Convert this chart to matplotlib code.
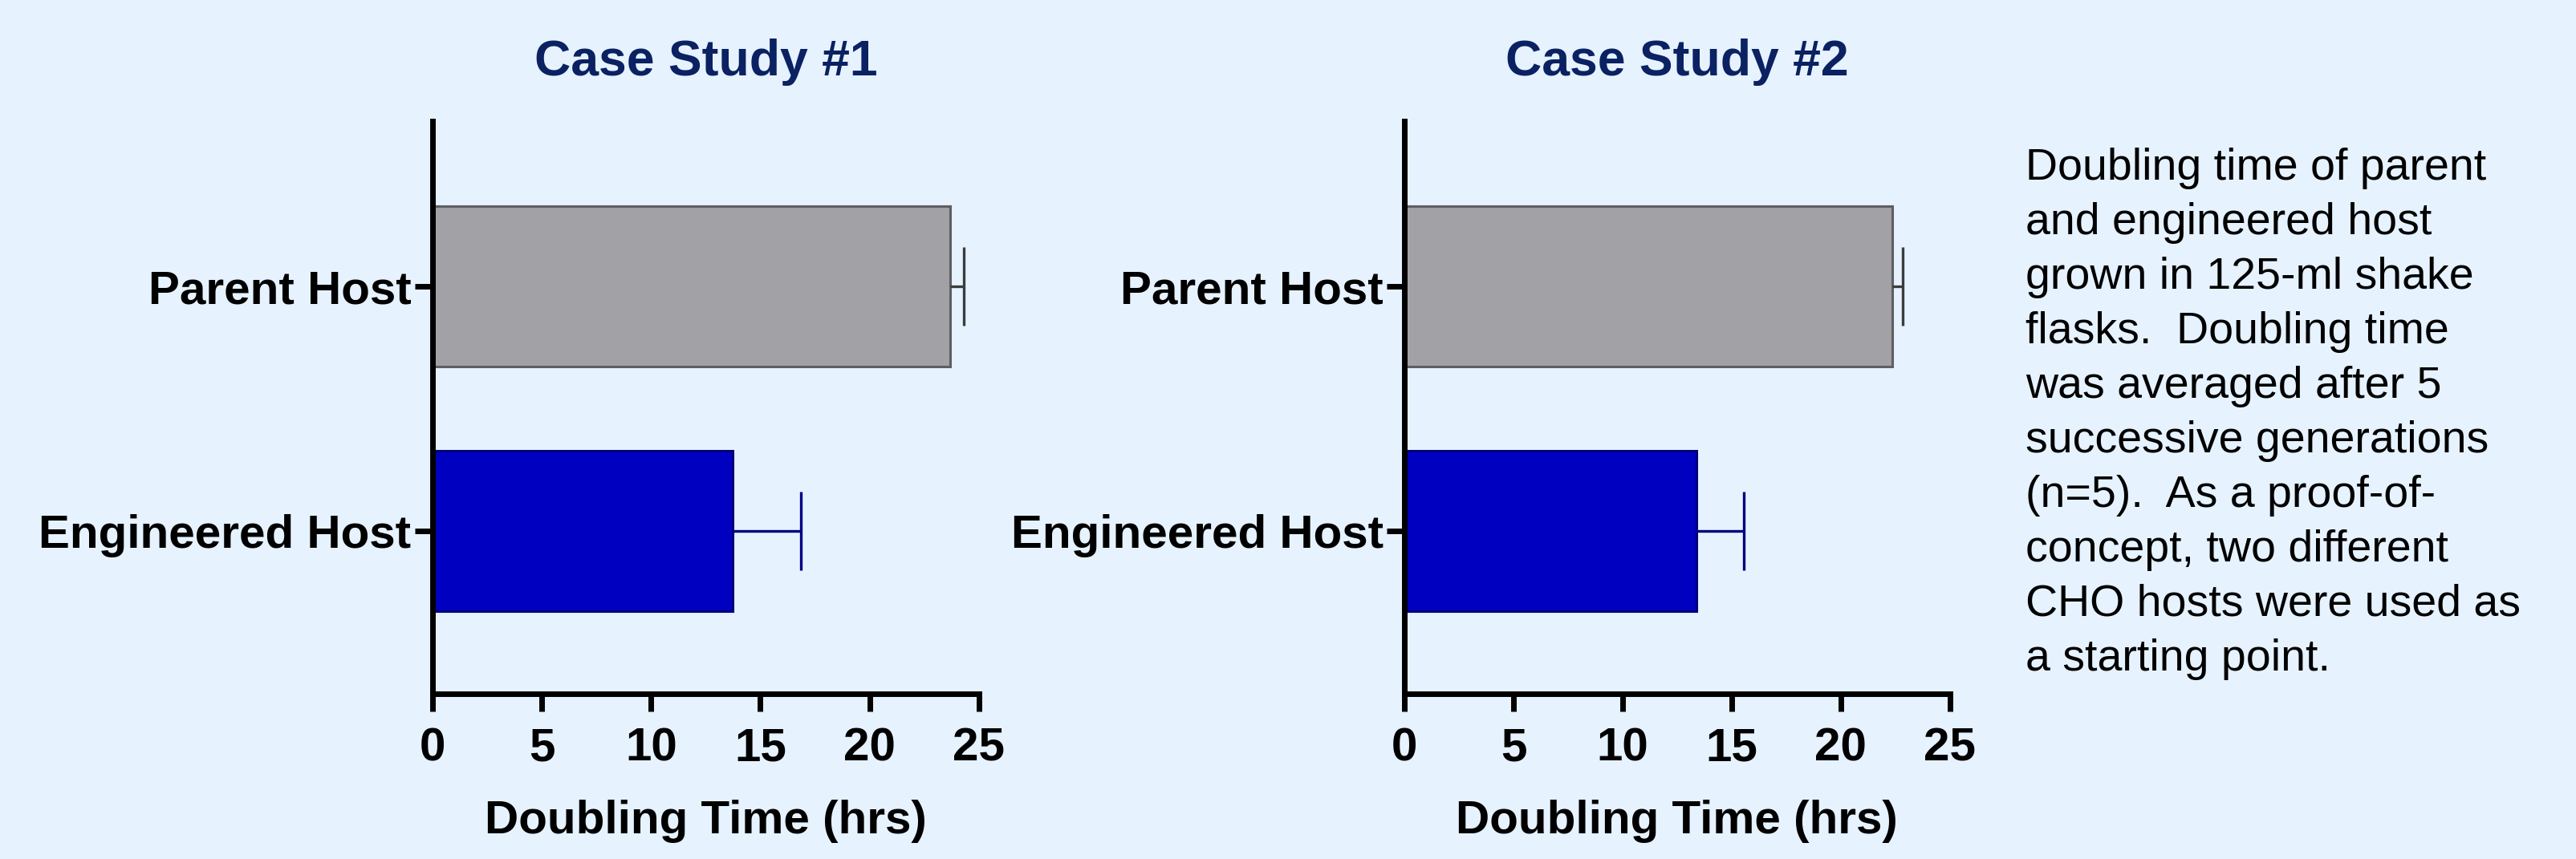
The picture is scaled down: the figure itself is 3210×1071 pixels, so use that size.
import matplotlib
matplotlib.use('Agg')
import matplotlib.pyplot as plt
import numpy as np

# ---- data ----
categories = ["Parent Host", "Engineered Host"]
case1_means = [23.7, 13.75]
case1_err = [0.6, 3.1]
case2_means = [22.35, 13.4]
case2_err = [0.5, 2.15]
titles = ["Case Study #1", "Case Study #2"]
xticks = [0, 5, 10, 15, 20, 25]
xlabel = "Doubling Time (hrs)"
note = ("Doubling time of parent\n"
        "and engineered host\n"
        "grown in 125-ml shake\n"
        "flasks.  Doubling time\n"
        "was averaged after 5\n"
        "successive generations\n"
        "(n=5).  As a proof-of-\n"
        "concept, two different\n"
        "CHO hosts were used as\n"
        "a starting point.")

# ---- style ----
BG = '#E6F2FE'
TITLE_C = '#0A2162'
fills = ['#A2A1A6', '#0000C0']
edges = ['#5E5E63', '#00007A']
errc = ['#3C3C3C', '#000080']

plt.rcParams['font.family'] = ['Liberation Sans', 'DejaVu Sans']
plt.rcParams['font.weight'] = 'bold'

fig = plt.figure(figsize=(32.1, 10.71), dpi=100, facecolor=BG)

rects = [[0.1679, 0.1923, 0.2121, 0.6671],
         [0.5452, 0.1923, 0.2117, 0.6671]]
datasets = [(case1_means, case1_err), (case2_means, case2_err)]

for rect, title, (means, errs) in zip(rects, titles, datasets):
    ax = fig.add_axes(rect)
    ax.set_facecolor(BG)
    ypos = np.arange(len(categories))[::-1]
    ax.barh(ypos, means, height=0.656, color=fills, edgecolor=edges,
            linewidth=2.2, zorder=2)
    for y, m, e, c in zip(ypos, means, errs, errc):
        ax.hlines(y, m, m + e, colors=c, linewidth=2.4, zorder=3)
        ax.plot([m + e], [y], marker='|', markersize=71, markeredgewidth=2.4,
                color=c, zorder=3, linestyle='none')
    ax.set_xlim(0, 25)
    ax.set_ylim(-0.666, 1.677)
    ax.set_xticks(xticks)
    ax.set_xticklabels([str(t) for t in xticks])
    ax.set_yticks(ypos)
    ax.set_yticklabels(categories)
    for s in ['top', 'right']:
        ax.spines[s].set_visible(False)
    for s in ['left', 'bottom']:
        ax.spines[s].set_linewidth(5)
        ax.spines[s].set_color('black')
    ax.tick_params(axis='both', direction='out', length=16, width=5,
                   labelsize=42, colors='black')
    ax.tick_params(axis='x', pad=14)
    ax.tick_params(axis='y', pad=3)
    ax.set_xlabel(xlabel, fontsize=42, fontweight='bold', labelpad=26)
    ax.set_title(title, fontsize=45, fontweight='bold', color=TITLE_C, pad=41)

fig.text(2524 / 3210, 0.8282, note, fontsize=40, fontweight='normal',
         ha='left', va='top', linespacing=1.40, color='black')

fig.savefig('out.png', dpi=100, facecolor=fig.get_facecolor())
